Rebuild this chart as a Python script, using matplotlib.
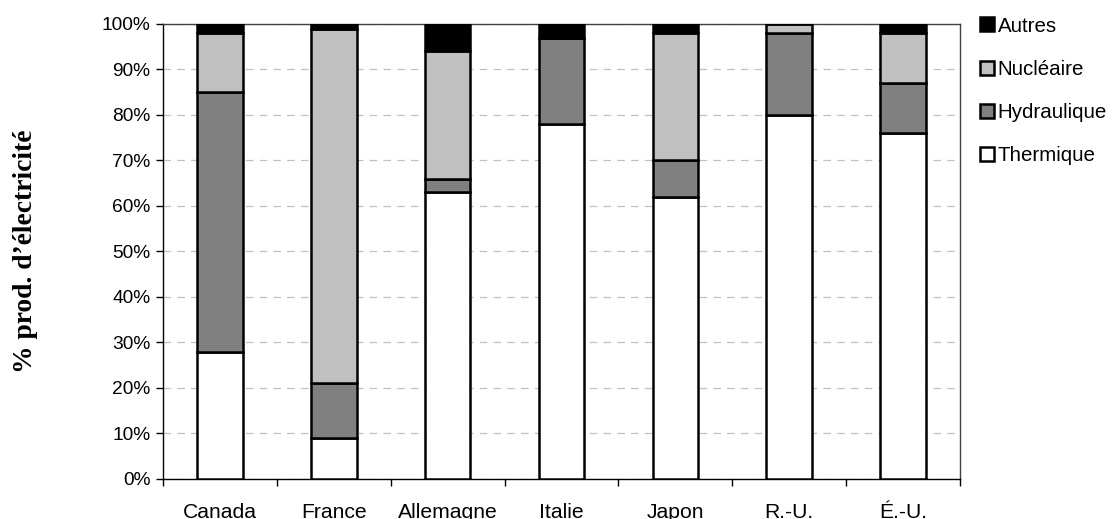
import matplotlib
matplotlib.use("Agg")
import matplotlib.pyplot as plt
import numpy as np
from matplotlib.patches import Patch

countries = ["Canada", "France", "Allemagne", "Italie", "Japon", "R.-U.", "É.-U."]
thermique = [28, 9, 63, 78, 62, 80, 76]
hydraulique = [57, 12, 3, 19, 8, 18, 11]
nucleaire = [13, 78, 28, 0, 28, 2, 11]
autres = [2, 1, 6, 3, 2, 0, 2]

series = [("Thermique", thermique, "#FFFFFF"),
          ("Hydraulique", hydraulique, "#808080"),
          ("Nucléaire", nucleaire, "#C0C0C0"),
          ("Autres", autres, "#000000")]

plt.rcParams['font.family'] = ['Liberation Sans', 'DejaVu Sans']

fig = plt.figure(figsize=(11.12, 5.19), dpi=100)
ax = fig.add_axes([0.1466, 0.0771, 0.7167, 0.8767])

x = np.arange(len(countries))
bottom = np.zeros(len(countries))
handles = []
for name, vals, col in series:
    v = np.array(vals, dtype=float)
    ax.bar(x, v / 100.0, bottom=bottom / 100.0, width=0.4, color=col,
           edgecolor="black", linewidth=1.8, zorder=3)
    bottom += v
    handles.append(Patch(facecolor=col, edgecolor="black", linewidth=1.8, label=name))

ax.set_xlim(-0.5, len(countries) - 0.5)
ax.set_ylim(0, 1)
ax.set_yticks(np.arange(0, 1.01, 0.1))
ax.set_yticklabels([f"{int(round(t*100))}%" for t in np.arange(0, 1.01, 0.1)], fontsize=13.8)
ax.yaxis.grid(True, linestyle=(0, (6, 5)), color="#C0C0C0", linewidth=0.9, zorder=0)
ax.set_axisbelow(True)

ax.set_xticks(x)
ax.set_xticklabels(countries, fontsize=15.2)
ax.tick_params(axis="x", which="major", length=0, pad=17.5)
ax.set_xticks(np.arange(-0.5, len(countries), 1), minor=True)
ax.tick_params(axis="x", which="minor", length=5, width=1, direction="out")
ax.tick_params(axis="y", length=5, width=1, direction="out", pad=4)

for s in ax.spines.values():
    s.set_color("#000000")
    s.set_linewidth(1.0)
for s in ["top", "right"]:
    ax.spines[s].set_color("#404040")
    ax.spines[s].set_linewidth(1.0)

ax.set_ylabel("% prod. d’électricité", fontsize=19.8, fontweight="bold",
              family=["Liberation Serif", "DejaVu Serif"])
ax.yaxis.set_label_coords(-0.157, 0.5)

leg = fig.legend(handles=handles[::-1], loc="upper left",
                 bbox_to_anchor=(0.881, 0.968), frameon=False, fontsize=14.8,
                 handlelength=0.68, handleheight=0.68, handletextpad=0.2,
                 labelspacing=1.18, borderaxespad=0, borderpad=0)

fig.savefig("out.png", dpi=100)
